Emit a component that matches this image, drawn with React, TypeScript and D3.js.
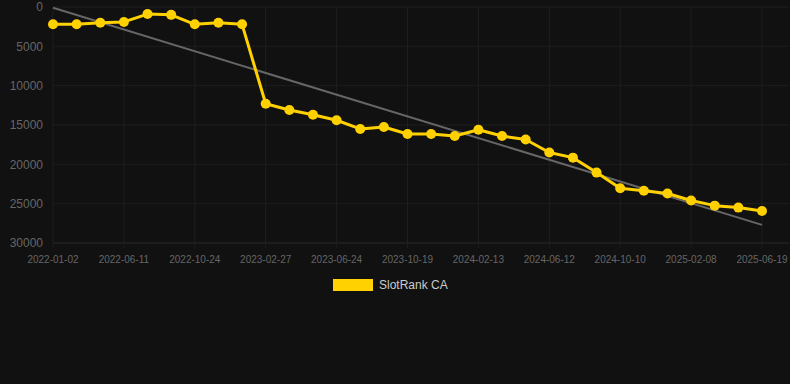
import React, { useEffect, useRef } from 'react';
import * as d3 from 'd3';

// category axis: 31 snapshots, every third one is labelled
const dates = [
  '2022-01-02', '2022-02-24', '2022-04-18', '2022-06-11', '2022-07-26', '2022-09-09',
  '2022-10-24', '2022-12-04', '2023-01-15', '2023-02-27', '2023-04-06', '2023-05-15',
  '2023-06-24', '2023-08-01', '2023-09-10', '2023-10-19', '2023-11-27', '2024-01-05',
  '2024-02-13', '2024-03-23', '2024-05-03', '2024-06-12', '2024-07-21', '2024-08-30',
  '2024-10-10', '2024-11-18', '2024-12-29', '2025-02-08', '2025-03-19', '2025-04-30',
  '2025-06-19'
];

const ranks = [
  2200, 2200, 2000, 1900, 900, 1000, 2200, 2000, 2200, 12300, 13100, 13700,
  14400, 15500, 15250, 16150, 16150, 16400, 15600, 16400, 16850, 18500, 19150, 21050,
  23050, 23350, 23700, 24600, 25250, 25500, 25930
];

const trendEnds = [100, 27700];
const yTicks = [0, 5000, 10000, 15000, 20000, 25000, 30000];
const seriesName = 'SlotRank CA';

const W = 790;
const H = 384;

export default function App() {
  const svgRef = useRef<SVGSVGElement>(null);

  useEffect(() => {
    if (!svgRef.current) return;
    const svg = d3.select(svgRef.current);
    svg.selectAll('*').remove();

    const margin = { top: 7, right: 1, bottom: 141, left: 53 };
    const lastX = 762;

    const x = d3.scalePoint<string>()
      .domain(dates)
      .range([margin.left, lastX]);

    const y = d3.scaleLinear()
      .domain([0, 30000])
      .range([margin.top, H - margin.bottom]);

    svg.append('rect')
      .attr('width', W)
      .attr('height', H)
      .attr('fill', '#111111');

    const font = 'Liberation Sans, Arial, Helvetica, sans-serif';

    // horizontal grid
    svg.append('g')
      .selectAll('line')
      .data(yTicks)
      .join('line')
      .attr('x1', margin.left)
      .attr('x2', W - margin.right)
      .attr('y1', d => y(d))
      .attr('y2', d => y(d))
      .attr('stroke', d => (d === 30000 ? '#2a2a2a' : '#1e1e1e'))
      .attr('stroke-width', 1);

    const labelled = dates.filter((_, i) => i % 3 === 0);

    // vertical grid
    svg.append('g')
      .selectAll('line')
      .data(labelled)
      .join('line')
      .attr('x1', d => x(d)!)
      .attr('x2', d => x(d)!)
      .attr('y1', margin.top)
      .attr('y2', y(30000) + 5)
      .attr('stroke', '#1e1e1e')
      .attr('stroke-width', 1);

    // y labels
    svg.append('g')
      .selectAll('text')
      .data(yTicks)
      .join('text')
      .attr('x', 43)
      .attr('y', d => y(d))
      .attr('dy', '0.35em')
      .attr('text-anchor', 'end')
      .attr('font-family', font)
      .attr('font-size', 12)
      .attr('fill', '#666666')
      .text(d => String(d));

    // x labels
    svg.append('g')
      .selectAll('text')
      .data(labelled)
      .join('text')
      .attr('x', d => x(d)!)
      .attr('y', y(30000) + 20)
      .attr('text-anchor', 'middle')
      .attr('font-family', font)
      .attr('font-size', 10)
      .attr('fill', '#666666')
      .text(d => d);

    // trend line
    svg.append('line')
      .attr('x1', x(dates[0])!)
      .attr('x2', x(dates[dates.length - 1])!)
      .attr('y1', y(trendEnds[0]))
      .attr('y2', y(trendEnds[1]))
      .attr('stroke', '#666666')
      .attr('stroke-width', 2);

    const line = d3.line<number>()
      .x((_, i) => x(dates[i])!)
      .y(d => y(d));

    svg.append('path')
      .datum(ranks)
      .attr('d', line)
      .attr('fill', 'none')
      .attr('stroke', '#FFD100')
      .attr('stroke-width', 3)
      .attr('stroke-linejoin', 'round');

    svg.append('g')
      .selectAll('circle')
      .data(ranks)
      .join('circle')
      .attr('cx', (_, i) => x(dates[i])!)
      .attr('cy', d => y(d))
      .attr('r', 5)
      .attr('fill', '#FFD100');

    // legend
    const legend = svg.append('g').attr('transform', 'translate(333,279)');
    legend.append('rect')
      .attr('width', 40)
      .attr('height', 12)
      .attr('fill', '#FFD100');
    legend.append('text')
      .attr('x', 46)
      .attr('y', 6)
      .attr('dy', '0.35em')
      .attr('font-family', font)
      .attr('font-size', 12)
      .attr('fill', '#cccccc')
      .text(seriesName);
  }, []);

  return (
    <div style={{ position: 'absolute', left: 0, top: 0, width: W, height: H }}>
      <svg ref={svgRef} width={W} height={H} style={{ display: 'block' }} />
    </div>
  );
}
